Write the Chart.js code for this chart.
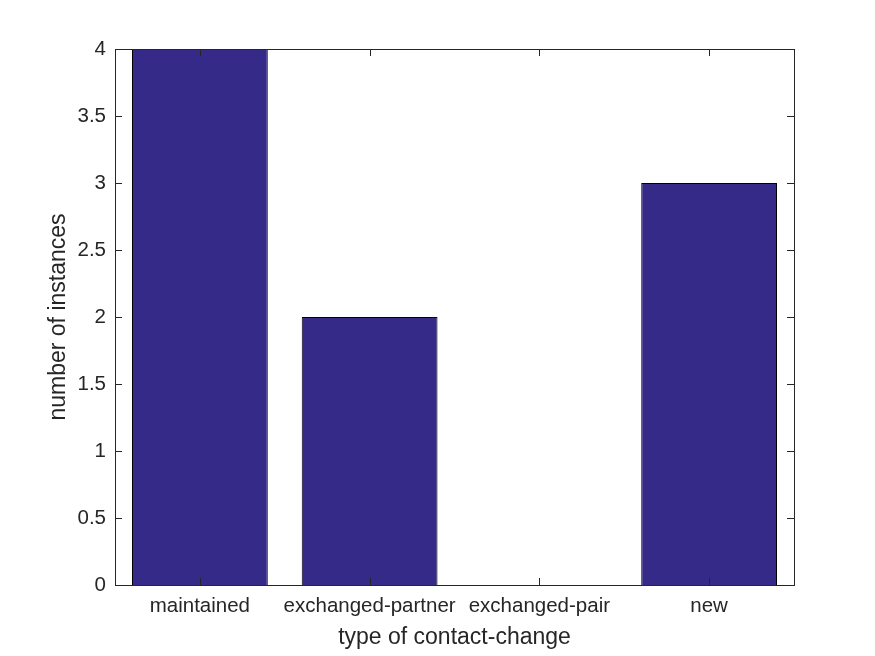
<!DOCTYPE html>
<html>
<head>
<meta charset="utf-8">
<script src="https://cdn.jsdelivr.net/npm/chart.js@4/dist/chart.umd.min.js"></script>
<style>
  html, body { margin: 0; padding: 0; background: #fff; }
  #wrap { width: 875px; height: 656px; }
</style>
</head>
<body>
<div id="wrap"><canvas id="barChart"></canvas></div>
<script>
const categories = ['maintained', 'exchanged-partner', 'exchanged-pair', 'new'];
const instances = [4, 2, 0, 3];
const yTicks = [0, 0.5, 1, 1.5, 2, 2.5, 3, 3.5, 4];

const textColor = '#262626';
const axisColor = '#262626';
const fontFamily = '"Liberation Sans", Arial, sans-serif';

// MATLAB-style box with inward ticks on all four sides
const boxPlugin = {
  id: 'boxAxes',
  afterDatasetsDraw(chart) {
    const { ctx, chartArea: a, scales } = chart;
    ctx.save();
    ctx.strokeStyle = axisColor;
    ctx.lineWidth = 1;
    ctx.beginPath();
    const len = 7;
    scales.x.ticks.forEach((t, i) => {
      const x = Math.round(scales.x.getPixelForTick(i)) + 0.5;
      ctx.moveTo(x, a.bottom); ctx.lineTo(x, a.bottom - len);
      ctx.moveTo(x, a.top); ctx.lineTo(x, a.top + len);
    });
    scales.y.ticks.forEach((t, i) => {
      const y = Math.round(scales.y.getPixelForTick(i)) + 0.5;
      ctx.moveTo(a.left, y); ctx.lineTo(a.left + len, y);
      ctx.moveTo(a.right, y); ctx.lineTo(a.right - len, y);
    });
    ctx.stroke();
    ctx.strokeRect(Math.round(a.left) + 0.5, Math.round(a.top) + 0.5,
      Math.round(a.right - a.left), Math.round(a.bottom - a.top));
    ctx.restore();
  }
};

const ctx = document.getElementById('barChart').getContext('2d');
new Chart(ctx, {
  type: 'bar',
  data: {
    labels: categories,
    datasets: [
      {
        label: 'instances',
        data: instances,
        backgroundColor: '#352a87',
        borderColor: '#000000',
        borderWidth: 1,
        barPercentage: 0.8,
        categoryPercentage: 1.0,
      },
    ],
  },
  options: {
    responsive: true,
    maintainAspectRatio: false,
    animation: false,
    layout: { padding: { top: 49, right: 81, left: 0, bottom: 0 } },
    plugins: {
      legend: { display: false },
      tooltip: { enabled: false },
    },
    scales: {
      x: {
        offset: true,
        grid: { display: false, drawTicks: false },
        border: { display: false },
        ticks: {
          color: textColor,
          font: { family: fontFamily, size: 20.5 },
          padding: 9,
          maxRotation: 0,
          autoSkip: false,
        },
        title: {
          display: true,
          text: 'type of contact-change',
          color: textColor,
          font: { family: fontFamily, size: 23 },
          padding: { top: 0, bottom: 5 },
        },
        afterFit(scale) { scale.height = 71; },
      },
      y: {
        min: 0,
        max: 4,
        afterBuildTicks(scale) { scale.ticks = yTicks.map((v) => ({ value: v })); },
        grid: { display: false, drawTicks: false },
        border: { display: false },
        ticks: {
          color: textColor,
          font: { family: fontFamily, size: 20.5 },
          padding: 9,
          callback: (v) => String(v),
        },
        title: {
          display: true,
          text: 'number of instances',
          color: textColor,
          font: { family: fontFamily, size: 23 },
          padding: { top: 45, bottom: 0 },
        },
        afterFit(scale) { scale.width = 115; },
      },
    },
  },
  plugins: [boxPlugin],
});
</script>
</body>
</html>
